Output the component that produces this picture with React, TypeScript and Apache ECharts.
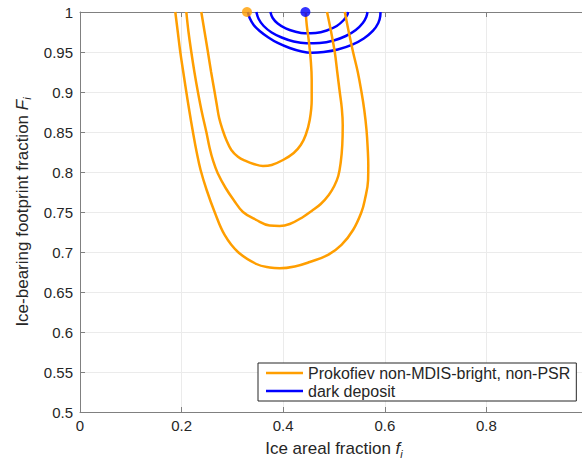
import React, { useEffect, useRef } from "react";
import * as echarts from "echarts";

// Contour levels for the two deposit types, as [f_i, F_i] pairs.
const ORANGE_NAME = "Prokofiev non-MDIS-bright, non-PSR";
const BLUE_NAME = "dark deposit";

const ORANGE_INNER: [number, number][] = [
  [0.2388, 1], [0.2453, 0.975], [0.2518, 0.95], [0.2581, 0.925], [0.265, 0.9],
  [0.269, 0.885], [0.2739, 0.8675], [0.2808, 0.8525], [0.2881, 0.84], [0.2979, 0.8275],
  [0.3109, 0.8191], [0.3261, 0.8138], [0.3419, 0.81], [0.3602, 0.8075], [0.3773, 0.8088],
  [0.3996, 0.815], [0.4207, 0.8238], [0.4345, 0.8338], [0.4443, 0.8463], [0.4522, 0.865],
  [0.4561, 0.89], [0.4561, 0.915], [0.4542, 0.94], [0.4502, 0.965], [0.4463, 0.9838],
  [0.4443, 1],
];

const ORANGE_MIDDLE: [number, number][] = [
  [0.2093, 1], [0.2136, 0.975], [0.2191, 0.95], [0.2252, 0.925], [0.2321, 0.9],
  [0.2398, 0.875], [0.2487, 0.85], [0.2552, 0.83], [0.2621, 0.8138], [0.2709, 0.7988],
  [0.2867, 0.78], [0.3025, 0.765], [0.3208, 0.75], [0.3472, 0.74], [0.3734, 0.7331],
  [0.3931, 0.7325], [0.4128, 0.735], [0.439, 0.7438], [0.4561, 0.7513], [0.4739, 0.76],
  [0.4897, 0.7713], [0.5005, 0.7825], [0.5084, 0.795], [0.5133, 0.8125], [0.5163, 0.8338],
  [0.5172, 0.8588], [0.5153, 0.88], [0.5113, 0.9], [0.5064, 0.925], [0.5015, 0.95],
  [0.4936, 0.9775], [0.4863, 1],
];

const ORANGE_OUTER: [number, number][] = [
  [0.1876, 1], [0.1925, 0.975], [0.1974, 0.95], [0.2033, 0.925], [0.2093, 0.9],
  [0.2156, 0.875], [0.2223, 0.85], [0.2296, 0.825], [0.2374, 0.8025], [0.2493, 0.7775],
  [0.265, 0.75], [0.2847, 0.7213], [0.3109, 0.7], [0.3472, 0.685], [0.3734, 0.6806],
  [0.3931, 0.6796], [0.4227, 0.6819], [0.4522, 0.6875], [0.4883, 0.6963], [0.5147, 0.7088],
  [0.5375, 0.7275], [0.5541, 0.75], [0.5606, 0.765], [0.5671, 0.79], [0.5675, 0.8088],
  [0.5665, 0.8275], [0.564, 0.8525], [0.5596, 0.8775], [0.5541, 0.9], [0.5468, 0.925],
  [0.5375, 0.95], [0.5291, 0.975], [0.5212, 1],
];

const BLUE_INNER: [number, number][] = [
  [0.3748, 1], [0.3793, 0.9925], [0.3892, 0.9856], [0.4049, 0.9794], [0.4227, 0.9756],
  [0.4424, 0.9734], [0.464, 0.9738], [0.4857, 0.9769], [0.5054, 0.9825], [0.5192, 0.99],
  [0.5261, 0.9963], [0.5277, 1],
];

const BLUE_MIDDLE: [number, number][] = [
  [0.3472, 1], [0.3517, 0.9913], [0.3616, 0.9825], [0.3773, 0.9744], [0.397, 0.9681],
  [0.4207, 0.9631], [0.4457, 0.9609], [0.4719, 0.9613], [0.4995, 0.9644], [0.5232, 0.97],
  [0.5429, 0.9775], [0.5567, 0.9863], [0.5635, 0.9938], [0.5659, 1],
];

const BLUE_OUTER: [number, number][] = [
  [0.3306, 1], [0.334, 0.9925], [0.3419, 0.9838], [0.3537, 0.9763], [0.3695, 0.9688],
  [0.3892, 0.9613], [0.4128, 0.955], [0.4365, 0.9506], [0.4562, 0.9491], [0.4798, 0.95],
  [0.5074, 0.9531], [0.535, 0.9588], [0.5586, 0.9669], [0.5764, 0.9763], [0.5872, 0.9863],
  [0.5911, 0.995], [0.5915, 1],
];

// Best-fit points on the upper edge.
const ORANGE_BEST: [number, number][] = [[0.3287, 1]];
const BLUE_BEST: [number, number][] = [[0.4437, 1]];

const ORANGE = "#ff9e00";
const BLUE = "#0000ff";
const TEXT = "#262626";
const AXIS = "#808080";
const GRID = "#ebebeb";
const FONT = "'Liberation Sans', Arial, Helvetica, sans-serif";

function contour(name: string, color: string, data: [number, number][], z: number) {
  return {
    type: "line",
    name,
    data,
    showSymbol: false,
    symbol: "none",
    smooth: 0.4,
    clip: true,
    z,
    lineStyle: { color, width: 2.5 },
    itemStyle: { color },
  };
}

function bestPoint(color: string, data: [number, number][]) {
  return {
    type: "scatter",
    data,
    symbolSize: 10,
    clip: false,
    z: 6,
    silent: true,
    itemStyle: { color },
  };
}

const subRich = {
  f: { fontSize: 17, fontStyle: "italic", color: TEXT, fontFamily: FONT },
  s: {
    fontSize: 11,
    fontStyle: "italic",
    color: TEXT,
    fontFamily: FONT,
    verticalAlign: "bottom",
    padding: [10, 0, 0, 0],
  },
};

export default function App() {
  const ref = useRef<HTMLDivElement>(null);

  useEffect(() => {
    if (!ref.current) return;
    const chart = echarts.init(ref.current, undefined, { renderer: "svg" });

    const tickFormat = (v: number) => String(+v.toFixed(2));

    chart.setOption({
      animation: false,
      backgroundColor: "#ffffff",
      grid: {
        left: 80,
        top: 12,
        width: 508,
        height: 400,
        containLabel: false,
        outerBoundsMode: "none",
      },
      legend: {
        show: true,
        data: [ORANGE_NAME, BLUE_NAME],
        orient: "vertical",
        left: 258,
        top: 363,
        icon: "rect",
        itemWidth: 37,
        itemHeight: 2.5,
        itemGap: 2,
        padding: [2, 6, 2, 8],
        borderColor: TEXT,
        borderWidth: 1,
        borderRadius: 0,
        backgroundColor: "#ffffff",
        selectedMode: false,
        textStyle: { fontSize: 16, lineHeight: 16, color: TEXT, fontFamily: FONT },
      },
      xAxis: [
        {
          type: "value",
          position: "bottom",
          min: 0,
          max: 1,
          interval: 0.2,
          name: "Ice areal fraction {f|f}{s|i}",
          nameLocation: "middle",
          nameGap: 26,
          nameTextStyle: { fontSize: 17, color: TEXT, fontFamily: FONT, rich: subRich },
          axisLine: { show: true, lineStyle: { color: AXIS, width: 1 } },
          axisTick: { show: true, inside: true, length: 5, lineStyle: { color: AXIS } },
          axisLabel: {
            color: TEXT,
            fontSize: 15,
            fontFamily: FONT,
            margin: 6,
            showMaxLabel: false,
            formatter: tickFormat,
          },
          splitLine: { show: true, lineStyle: { color: GRID, width: 1 } },
        },
        {
          type: "value",
          position: "top",
          min: 0,
          max: 1,
          interval: 0.2,
          axisLine: { show: true, lineStyle: { color: AXIS, width: 1 } },
          axisTick: { show: true, inside: true, length: 5, lineStyle: { color: AXIS } },
          axisLabel: { show: false },
          splitLine: { show: false },
        },
      ],
      yAxis: [
        {
          type: "value",
          position: "left",
          min: 0.5,
          max: 1,
          interval: 0.05,
          name: "Ice-bearing footprint fraction {f|F}{s|i}",
          nameLocation: "middle",
          nameGap: 46,
          nameTextStyle: { fontSize: 17, color: TEXT, fontFamily: FONT, rich: subRich },
          axisLine: { show: true, lineStyle: { color: AXIS, width: 1 } },
          axisTick: { show: true, inside: true, length: 5, lineStyle: { color: AXIS } },
          axisLabel: { color: TEXT, fontSize: 15, fontFamily: FONT, margin: 7, formatter: tickFormat },
          splitLine: { show: true, lineStyle: { color: GRID, width: 1 } },
        },
      ],
      series: [
        contour(BLUE_NAME, BLUE, BLUE_INNER, 2),
        contour(BLUE_NAME, BLUE, BLUE_MIDDLE, 2),
        contour(BLUE_NAME, BLUE, BLUE_OUTER, 2),
        contour(ORANGE_NAME, ORANGE, ORANGE_INNER, 3),
        contour(ORANGE_NAME, ORANGE, ORANGE_MIDDLE, 3),
        contour(ORANGE_NAME, ORANGE, ORANGE_OUTER, 3),
        bestPoint(ORANGE, ORANGE_BEST),
        bestPoint(BLUE, BLUE_BEST),
      ],
    });

    return () => chart.dispose();
  }, []);

  return (
    <div
      style={{
        position: "fixed",
        left: 0,
        top: 0,
        width: 582,
        height: 459,
        overflow: "hidden",
        background: "#ffffff",
      }}
    >
      <div ref={ref} style={{ width: 600, height: 459 }} />
    </div>
  );
}
